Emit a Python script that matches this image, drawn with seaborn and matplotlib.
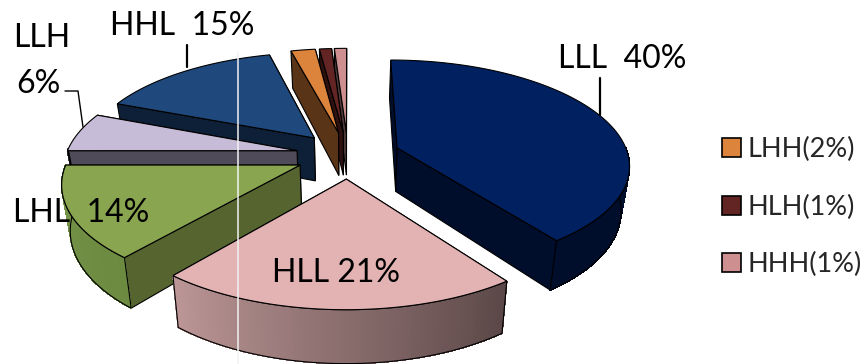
import numpy as np
import matplotlib
matplotlib.use("Agg")
import matplotlib.pyplot as plt
from matplotlib.patches import Polygon, Patch
import seaborn as sns

# ---- data ----
categories = ["LLL", "HLL", "LHL", "LLH", "HHL", "LHH", "HLH", "HHH"]
values = [40, 21, 14, 6, 15, 2, 1, 1]
top_colors = ["#002060", "#E3B3B3", "#8AA550", "#C7BCD8", "#1F497D", "#DC843C", "#632523", "#CD8F8F"]
wall_colors = ["#000D2B", "#4F3F3F", "#566430", "#4F4B58", "#0E2037", "#5A3417", "#2F1110", "#4E3A3A"]
arc_left = ["#000D2B", "#BC9696", "#76934A", "#4F4B58", "#0E2037", "#5A3417", "#2F1110", "#4E3A3A"]
arc_right = ["#000D2B", "#5B4747", "#6C8A40", "#4F4B58", "#0E2037", "#5A3417", "#2F1110", "#4E3A3A"]
legend_names = ["LHH(2%)", "HLH(1%)", "HHH(1%)"]
legend_colors = ["#DC843C", "#632523", "#CD8F8F"]

# ---- projection settings ----
W, H = 866, 364
CX, CY, RX, RY = 348, 155, 231, 103
PERSP, DEPTH, EXPLODE, TAPER = 0.15, 44, 0.226, 0.03

sns.set_theme(style="white")
plt.rcParams["font.family"] = ["Lato", "DejaVu Sans"]
fig = plt.figure(figsize=(W / 100, H / 100), dpi=100)
ax = fig.add_axes([0, 0, 1, 1])
ax.set_xlim(0, W)
ax.set_ylim(H, 0)
ax.axis("off")
sns.despine(ax=ax, left=True, bottom=True)


def project(x, y, wall=False):
    s = 1 / (1 + PERSP * np.asarray(y))
    k = 1 - TAPER if wall else 1
    return np.column_stack([CX + RX * np.asarray(x) * s * k,
                            CY - RY * np.asarray(y) * s + (DEPTH * s if wall else 0)])


def blend(c1, c2, t):
    a, b = np.array(matplotlib.colors.to_rgb(c1)), np.array(matplotlib.colors.to_rgb(c2))
    return a + (b - a) * t


shares = np.array(values, float) / sum(values) * 2 * np.pi
stops = np.concatenate([[0], np.cumsum(shares)])
order = [7, 6, 5, 4, 3, 2, 0, 1]          # painted back to front

for idx, i in enumerate(order):
    a0, a1 = stops[i], stops[i + 1]
    mid = (a0 + a1) / 2
    ox, oy = EXPLODE * np.sin(mid), EXPLODE * np.cos(mid)
    th = np.linspace(a0, a1, max(8, int(values[i] * 4)))
    ax_, ay_ = ox + np.sin(th), oy + np.cos(th)
    top_arc = project(ax_, ay_)
    low_arc = project(ax_, ay_, wall=True)
    tip_top = project([ox], [oy])
    tip_low = project([ox], [oy], wall=True)
    # radial walls, the farther one first
    ends = sorted((0, -1), key=lambda e: -ay_[e])
    for end in ends:
        ax.add_patch(Polygon(np.vstack([tip_top, top_arc[end], low_arc[end], tip_low]),
                             closed=True, fc=wall_colors[i], ec="black", lw=0.8, zorder=1 + idx * 3))
    # outer wall with gradient: only the part that faces the viewer
    z = 2 + idx * 3
    front = np.cos(th) < 0.02
    if front.sum() >= 2:
        ta, la = top_arc[front], low_arc[front]
        n = len(ta)
        for k in range(n - 1):
            col = blend(arc_right[i], arc_left[i], k / max(1, n - 2))
            ax.add_patch(Polygon(np.vstack([ta[k], ta[k + 1], la[k + 1], la[k]]),
                                 closed=True, fc=col, ec=col, lw=0.5, antialiased=False, zorder=z))
        ax.add_patch(Polygon(np.vstack([ta, la[::-1]]), closed=True, fc="none", ec="black", lw=0.8, zorder=z))
    # top face
    ax.add_patch(Polygon(np.vstack([tip_top, top_arc]), closed=True,
                         fc=top_colors[i], ec="black", lw=0.8, zorder=3 + idx * 3))

# pale vertical rule and leader lines
ax.plot([238, 238], [52, H], color="#F2F2F2", lw=1.1, zorder=60)
ax.plot([600, 600], [78, 115], color="black", lw=1.6, zorder=60)
ax.plot([187, 187], [45, 67], color="black", lw=1.6, zorder=60)
ax.plot([65, 78, 83], [91, 91, 127], color="black", lw=1.0, zorder=60)

# data labels
label_style = dict(fontsize=23, color="black", va="baseline", ha="left", zorder=70)
ax.text(558, 68, f"{categories[0]}  {values[0]}%", **label_style)
ax.text(272, 282, f"{categories[1]} {values[1]}%", **label_style)
ax.text(13, 222, f"{categories[2]}  {values[2]}%", **label_style)
ax.text(13, 47, categories[3], **label_style)
ax.text(16, 93, f"{values[3]}%", **label_style)
ax.text(110, 35, f"{categories[4]}  {values[4]}%", **label_style)

# legend
handles = [Patch(fc=c, ec="black", lw=1.2) for c in legend_colors]
ax.legend(handles, legend_names, loc="center left", bbox_to_anchor=(714 / W, 1 - 207 / H),
          frameon=False, fontsize=19.5, handlelength=0.7, handleheight=0.7,
          handletextpad=0.25, labelspacing=1.2, borderpad=0, borderaxespad=0.3)

fig.savefig("out.png", dpi=100)
